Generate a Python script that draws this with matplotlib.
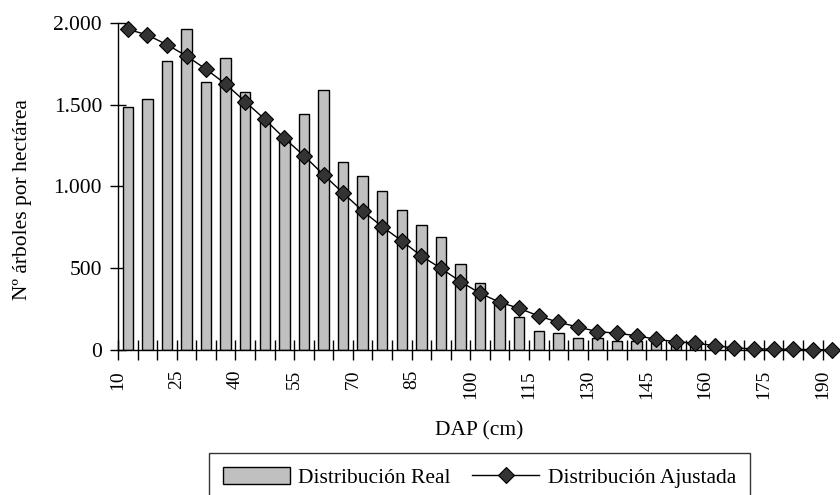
import numpy as np
import matplotlib.pyplot as plt

plt.rcParams['font.family'] = ['Liberation Serif', 'DejaVu Serif']

# clases diamétricas (cm)
dap = list(range(10, 195, 5))
# distribución real (árboles/ha)
real = [1487, 1532, 1767, 1958, 1635, 1782, 1578, 1400, 1290, 1444,
        1590, 1150, 1062, 972, 855, 765, 692, 529, 413, 290,
        206, 117, 105, 74, 74, 56, 56, 44, 40, 30,
        12, 0, 0, 0, 0, 0, 0]
# distribución ajustada
ajustada = [1959, 1924, 1865, 1796, 1715, 1625, 1517, 1410, 1294, 1188,
            1072, 960, 851, 755, 668, 576, 501, 420, 349, 294,
            257, 210, 172, 143, 115, 105, 90, 68, 54, 44,
            30, 15, 10, 8, 7, 5, 4]
yticks = [0, 500, 1000, 1500, 2000]
ytick_labels = ['0', '500', '1.000', '1.500', '2.000']

fig = plt.figure(figsize=(8.4, 4.95), dpi=100)
ax = fig.add_axes([0.1405, 0.292, 0.862, 0.6625])

x = np.arange(len(dap))
bars = ax.bar(x, real, width=0.53, color='#c0c0c0', edgecolor='black',
              linewidth=1, label='Distribución Real', zorder=2)
line, = ax.plot(x, ajustada, color='black', linewidth=1, marker='D',
                markersize=8.5, markerfacecolor='#333333',
                markeredgecolor='black', markeredgewidth=0.8,
                label='Distribución Ajustada', zorder=3, clip_on=False)

ax.set_xlim(-0.5, len(dap) - 0.5)
ax.set_ylim(0, 2000)
ax.set_yticks(yticks)
ax.set_yticklabels(ytick_labels, fontsize=15.5)

bounds = np.arange(len(dap) + 1) - 0.5
xlabels = [str(10 + 5 * k) if k % 3 == 0 else '' for k in range(len(dap) + 1)]
ax.set_xticks(bounds)
ax.set_xticklabels(xlabels, rotation=90, fontsize=14)

ax.tick_params(axis='x', direction='inout', length=14, width=1, pad=7)
ax.tick_params(axis='y', direction='inout', length=11, width=1, pad=6)
for s in ['top', 'right']:
    ax.spines[s].set_visible(False)
ax.spines['left'].set_linewidth(1)
ax.spines['bottom'].set_linewidth(1)

fig.text(23 / 840, 1 - 200 / 495, 'Nº árboles por hectárea', rotation=90,
         ha='center', va='center', fontsize=15.5)
fig.text(479 / 840, 1 - 431 / 495, 'DAP (cm)', ha='center', va='center',
         fontsize=15.5)

leg = fig.legend([bars, line], ['Distribución Real', 'Distribución Ajustada'],
                 loc='upper left', bbox_to_anchor=(209 / 840, 1 - 453 / 495),
                 ncol=2, fontsize=15.5, frameon=True, fancybox=False,
                 handlelength=3.1, handleheight=0.85, handletextpad=0.4,
                 borderpad=0.65, borderaxespad=0, columnspacing=1.0)
leg.get_frame().set_edgecolor('black')
leg.get_frame().set_linewidth(1)

fig.savefig('out.png', dpi=100)
